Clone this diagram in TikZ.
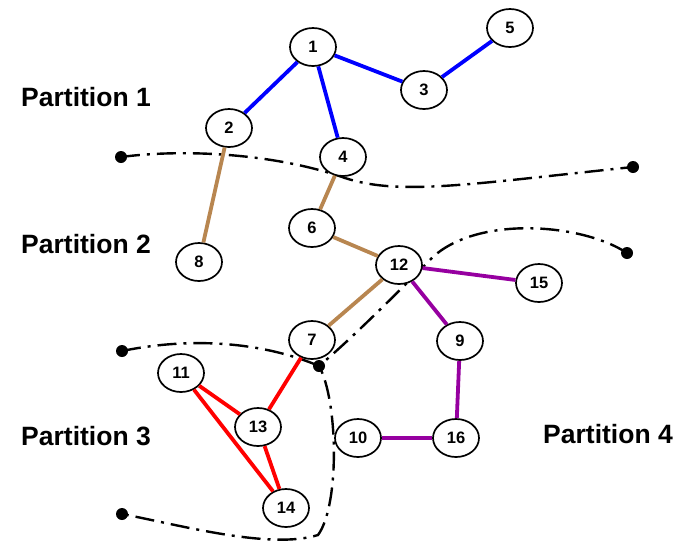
\documentclass[tikz,border=0pt]{standalone}
\usepackage{fontspec}
\setmainfont{Liberation Sans}
\usetikzlibrary{shapes.geometric}
\definecolor{eblue}{RGB}{0,0,255}
\definecolor{ebrown}{RGB}{184,134,80}
\definecolor{epurple}{RGB}{150,0,160}
\definecolor{ered}{RGB}{255,0,0}
\tikzset{
  vnode/.style={ellipse, draw=black, line width=1.7pt, fill=white, minimum width=46pt, minimum height=38pt, inner sep=0pt, font=\fontsize{16.5}{16.5}\selectfont\bfseries},
  plabel/.style={font=\fontsize{26.5}{26.5}\selectfont\bfseries, inner sep=0pt},
  edge/.style={line width=3.8pt},
  bound/.style={line width=2.4pt, dash pattern=on 19pt off 7pt on 3pt off 7pt},
  enddot/.style={circle, fill=black, minimum size=12pt, inner sep=0pt},
}
\begin{document}
\begin{tikzpicture}[x=1pt,y=-1pt]
\useasboundingbox (0,0) rectangle (688,544);
% boundary end dots
\node[enddot] (a1) at (121,157) {};
\node[enddot] (a2) at (633,167) {};
\node[enddot] (b1) at (627,253) {};
\node[enddot] (j) at (319,366) {};
\node[enddot] (c1) at (122,351) {};
\node[enddot] (c2) at (122,514) {};
% boundaries
\draw[bound] (a1.center) .. controls (190,148) and (280,155) .. (345,178)
   .. controls (400,196) and (470,184) .. (a2.center);
\draw[bound] (b1.center) .. controls (580,222) and (470,215) .. (428,262)
   .. controls (390,300) and (350,340) .. (j.center);
\draw[bound] (c1.center) .. controls (200,335) and (270,345) .. (j.center)
   .. controls (338,400) and (340,505) .. (318,535)
   .. controls (270,550) and (180,525) .. (c2.center);
% nodes
\node[vnode] (n1) at (313,47) {1};
\node[vnode] (n2) at (229,128) {2};
\node[vnode] (n3) at (424,90) {3};
\node[vnode] (n4) at (343,157) {4};
\node[vnode] (n5) at (510,28) {5};
\node[vnode] (n6) at (312,228) {6};
\node[vnode] (n7) at (312,340) {7};
\node[vnode] (n8) at (199,262) {8};
\node[vnode] (n9) at (460,341) {9};
\node[vnode] (n10) at (358,438) {10};
\node[vnode] (n11) at (181,373) {11};
\node[vnode] (n12) at (399,265) {12};
\node[vnode] (n13) at (258,427) {13};
\node[vnode] (n14) at (286,508) {14};
\node[vnode] (n15) at (539,283) {15};
\node[vnode] (n16) at (456,438) {16};
% edges
\draw[edge, eblue] (n1) -- (n2);
\draw[edge, eblue] (n1) -- (n4);
\draw[edge, eblue] (n1) -- (n3);
\draw[edge, eblue] (n3) -- (n5);
\draw[edge, ebrown] (n2) -- (n8);
\draw[edge, ebrown] (n4) -- (n6);
\draw[edge, ebrown] (n6) -- (n12);
\draw[edge, ebrown] (n12) -- (n7);
\draw[edge, epurple] (n12) -- (n15);
\draw[edge, epurple] (n12) -- (n9);
\draw[edge, epurple] (n9) -- (n16);
\draw[edge, epurple] (n16) -- (n10);
\draw[edge, ered] (n7) -- (n13);
\draw[edge, ered] (n11) -- (n13);
\draw[edge, ered] (n11) -- (n14);
\draw[edge, ered] (n13) -- (n14);
% labels
\node[plabel] (p1) at (86,97) {Partition 1};
\node[plabel] (p2) at (86,244) {Partition 2};
\node[plabel] (p3) at (86,436) {Partition 3};
\node[plabel] (p4) at (608,434) {Partition 4};
\end{tikzpicture}
\end{document}
